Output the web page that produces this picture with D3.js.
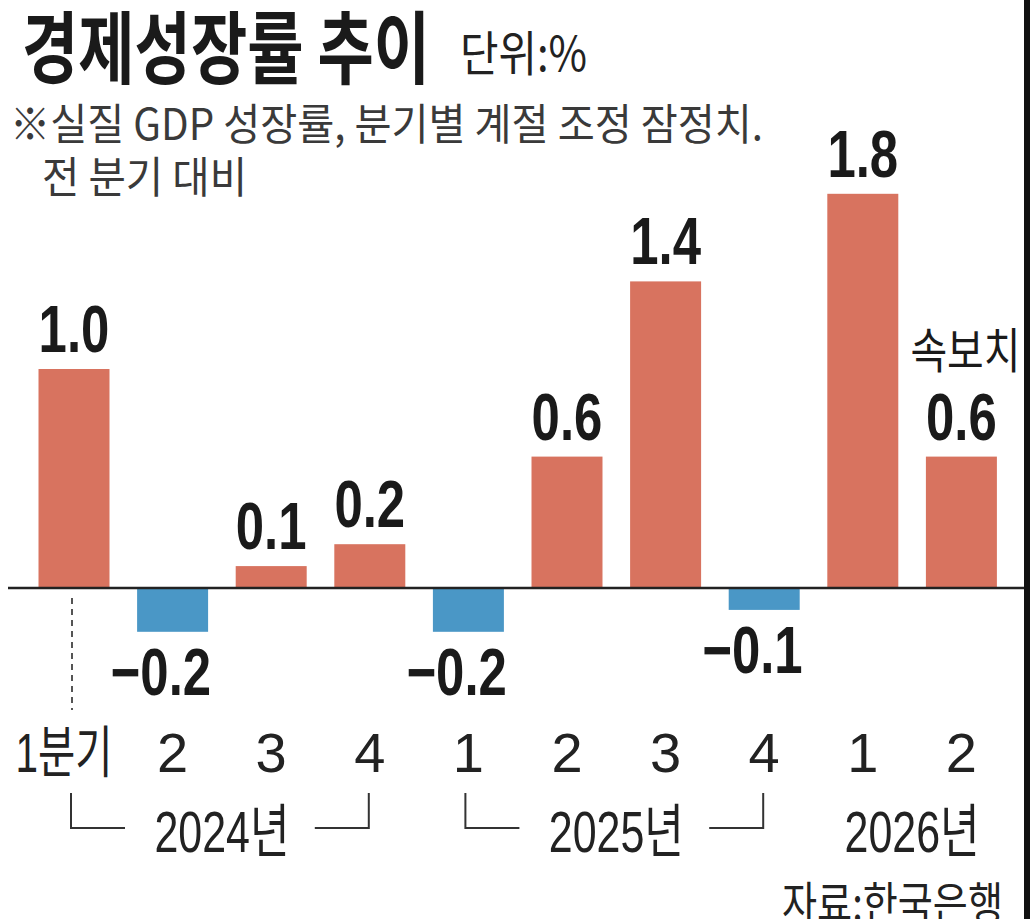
<!DOCTYPE html>
<html>
<head>
<meta charset="utf-8">
<script src="https://cdn.jsdelivr.net/npm/d3@7"></script>
<style>
  body { margin: 0; background: #fff; }
  svg { display: block; }
</style>
</head>
<body>
<div id="chart"></div>
<script>
// Quarterly real GDP growth, q/q, seasonally adjusted (%).
var quarters = ["1분기", "2", "3", "4", "1", "2", "3", "4", "1", "2"];
var growth = [1.0, -0.2, 0.1, 0.2, -0.2, 0.6, 1.4, -0.1, 1.8, 0.6];
var years = ["2024년", "2025년", "2026년"];
var yearFirst = [0, 4, 8];
var yearLast = [3, 7, 9];

var width = 1030,
    height = 919,
    baseY = 588,
    unitPx = 219,
    posColor = "#d8735f",
    negColor = "#4a97c6",
    ink = "#1a1a1a",
    hangul = "'Noto Sans CJK KR', sans-serif",
    latin = "'Liberation Sans', Arial, 'Noto Sans CJK KR', sans-serif";

var svg = d3.select("#chart").append("svg")
    .attr("width", width)
    .attr("height", height);

// Scales.
var x = d3.scaleBand()
    .domain(d3.range(growth.length))
    .range([24.7, 1010.7])
    .paddingInner(0.28)
    .paddingOuter(0.14);

var y = d3.scaleLinear()
    .domain([0, 1])
    .range([baseY, baseY - unitPx]);

function center(i){ return x(i) + x.bandwidth() / 2; }

// Plain text squeezed to a set width (the source font is condensed).
function label(str, px, py, size, weight, family, fill, len){
  var t = svg.append("text")
      .attr("x", px)
      .attr("y", py)
      .style("font-family", family)
      .style("font-size", size + "px")
      .style("font-weight", weight)
      .attr("fill", fill)
      .text(str);
  if(len){
    t.attr("textLength", len).attr("lengthAdjust", "spacingAndGlyphs");
  }
  return t;
}

// Title block.
label("경제성장률 추이", 22, 78, 79, 700, hangul, ink, 408);
label("단위:%", 460, 71, 48, 400, hangul, "#222", 127);
label("※실질 GDP 성장률, 분기별 계절 조정 잠정치.", 10, 140, 43, 400, hangul, "#3a3a3a", 753);
label("전 분기 대비", 42, 193, 43, 400, hangul, "#3a3a3a", 205);

// Bars.
svg.append("g")
  .selectAll("rect")
    .data(growth)
  .enter().append("rect")
    .attr("x", function(d, i){ return x(i); })
    .attr("width", x.bandwidth())
    .attr("y", function(d){ return d >= 0 ? y(d) : baseY; })
    .attr("height", function(d){ return Math.abs(y(d) - baseY); })
    .attr("fill", function(d){ return d >= 0 ? posColor : negColor; });

// Zero line.
svg.append("line")
    .attr("x1", 8).attr("x2", 1024)
    .attr("y1", baseY).attr("y2", baseY)
    .attr("stroke", "#222")
    .attr("stroke-width", 2.5);

// Dashed leader under the first bar.
svg.append("line")
    .attr("x1", center(0) - 2).attr("x2", center(0) - 2)
    .attr("y1", baseY + 10).attr("y2", 710)
    .attr("stroke", "#555")
    .attr("stroke-width", 2)
    .attr("stroke-dasharray", "6,5");

// Value labels: positive above the bar, negative below it.
svg.append("g")
  .selectAll("g")
    .data(growth)
  .enter().append("g")
    .attr("transform", function(d, i){
      var px = d >= 0 ? center(i) : x(i) + x.bandwidth() + 3,
          py = d >= 0 ? y(d) - 17 : y(d) + 63;
      return "translate(" + px + "," + py + ") scale(0.76,1)";
    })
  .append("text")
    .attr("text-anchor", function(d){ return d >= 0 ? "middle" : "end"; })
    .style("font-family", latin)
    .style("font-size", "67px")
    .style("font-weight", 700)
    .attr("fill", ink)
    .text(function(d){ return d < 0 ? "\u2212" + d3.format(".1f")(-d) : d3.format(".1f")(d); });

// Flash-estimate note over the last bar.
var last = growth.length - 1;
label("속보치", center(last) + 4, 368, 48, 400, hangul, ink, 110)
    .attr("text-anchor", "middle");

// Quarter labels.
svg.append("g")
  .selectAll("g")
    .data(quarters)
  .enter().append("g")
    .attr("transform", function(d, i){
      return "translate(" + (i === 0 ? center(i) - 10 : center(i)) + ",772)";
    })
  .append("text")
    .attr("text-anchor", "middle")
    .style("font-family", latin)
    .style("font-size", "56px")
    .attr("fill", "#222")
    .each(function(d){
      d3.select(this).text(d);
      if(d.length > 1){
        d3.select(this).attr("textLength", 97).attr("lengthAdjust", "spacingAndGlyphs");
      }
    });

// Year labels with brackets for complete years.
years.forEach(function(yr, k){
  var a = center(yearFirst[k]),
      b = center(yearLast[k]),
      mid = (a + b) / 2;
  label(yr, mid, 852, 58, 400, latin, "#222", 135).attr("text-anchor", "middle");
  if(yearLast[k] - yearFirst[k] === 3){
    var path = d3.path();
    path.moveTo(a - 3, 793); path.lineTo(a - 3, 828); path.lineTo(a + 51, 828);
    path.moveTo(b - 55, 828); path.lineTo(b - 1, 828); path.lineTo(b - 1, 793);
    svg.append("path")
        .attr("d", path.toString())
        .attr("fill", "none")
        .attr("stroke", "#333")
        .attr("stroke-width", 2);
  }
});

// Source.
label("자료:한국은행", 782, 920, 46, 400, hangul, "#222", 221);

// Right frame edge.
svg.append("rect")
    .attr("x", 1024).attr("y", 0)
    .attr("width", 6).attr("height", height)
    .attr("fill", "#111");
</script>
</body>
</html>
